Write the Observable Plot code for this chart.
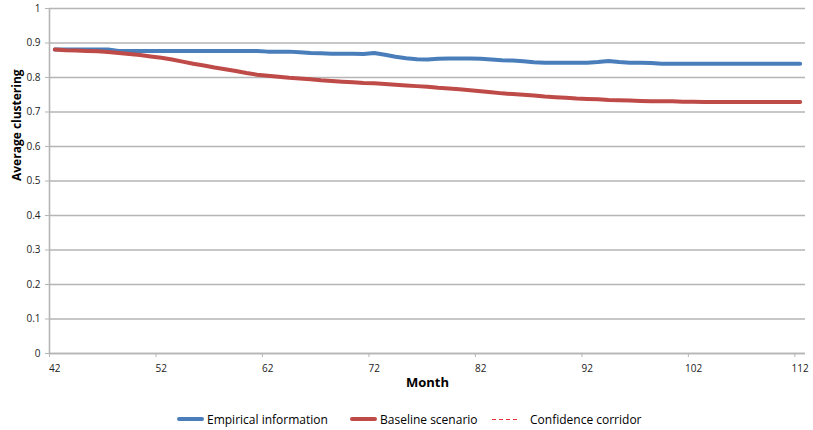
<!DOCTYPE html>
<html>
<head>
<meta charset="utf-8">
<script src="https://cdn.jsdelivr.net/npm/d3@7"></script>
<script src="https://cdn.jsdelivr.net/npm/@observablehq/plot@0.6"></script>
<style>
  html, body { margin: 0; padding: 0; background: #fff; }
  body { width: 813px; height: 430px; overflow: hidden; font-family: "Open Sans", sans-serif; }
  #legend { position: absolute; top: 410px; left: 0; width: 813px; height: 18px; font-size: 12px; color: #000; }
  .item { position: absolute; top: 0; display: flex; align-items: center; height: 18px; white-space: nowrap; }
  .sw { width: 27px; height: 0; margin-right: 3px; }
</style>
</head>
<body>
<div id="chart"></div>
<div id="legend">
  <div class="item" style="left:177px"><div class="sw" style="border-top:4px solid #4a7ebb;border-radius:2px"></div>Empirical information</div>
  <div class="item" style="left:350px"><div class="sw" style="border-top:4px solid #be4b48;border-radius:2px"></div>Baseline scenario</div>
  <div class="item" style="left:492px"><div class="sw" style="width:26px;height:1px;background:repeating-linear-gradient(90deg,#e8303c 0 4px,transparent 4px 7px);margin-right:12px"></div>Confidence corridor</div>
</div>
<script>
const months = d3.range(42, 113);
const empirical = [
  0.881, 0.881, 0.881, 0.881, 0.881, 0.881, 0.877, 0.877, 0.877, 0.877,
  0.877, 0.877, 0.877, 0.877, 0.877, 0.877, 0.877, 0.877, 0.877, 0.877,
  0.875, 0.875, 0.875, 0.873, 0.871, 0.870, 0.869, 0.869, 0.869, 0.868,
  0.871, 0.866, 0.860, 0.856, 0.853, 0.852, 0.854, 0.855, 0.855, 0.855,
  0.854, 0.852, 0.850, 0.849, 0.847, 0.844, 0.843, 0.843, 0.843, 0.843,
  0.843, 0.845, 0.848, 0.845, 0.843, 0.843, 0.842, 0.840, 0.840, 0.840,
  0.840, 0.840, 0.840, 0.840, 0.840, 0.840, 0.840, 0.840, 0.840, 0.840,
  0.840
];
const baseline = [
  0.881, 0.879, 0.878, 0.877, 0.876, 0.874, 0.871, 0.868, 0.865, 0.861,
  0.857, 0.852, 0.846, 0.840, 0.835, 0.829, 0.824, 0.819, 0.813, 0.808,
  0.805, 0.802, 0.799, 0.797, 0.795, 0.792, 0.790, 0.788, 0.786, 0.784,
  0.783, 0.781, 0.779, 0.777, 0.775, 0.773, 0.770, 0.768, 0.766, 0.763,
  0.760, 0.757, 0.754, 0.752, 0.750, 0.748, 0.745, 0.743, 0.741, 0.739,
  0.738, 0.737, 0.735, 0.734, 0.733, 0.732, 0.731, 0.731, 0.731, 0.730,
  0.730, 0.729, 0.729, 0.729, 0.729, 0.729, 0.729, 0.729, 0.729, 0.729,
  0.729
];
const xTickLabels = [42, 52, 62, 72, 82, 92, 102, 112];
const yTicks = d3.range(0, 11).map(i => i / 10);

const empData = months.map((m, i) => ({month: m, value: empirical[i]}));
const baseData = months.map((m, i) => ({month: m, value: baseline[i]}));

const gridColor = "#b5b5b5";
const chart = Plot.plot({
  width: 813,
  height: 405,
  marginLeft: 49,
  marginRight: 8,
  marginTop: 8,
  marginBottom: 52,
  style: {fontFamily: "Open Sans, sans-serif", fontSize: "10px", color: "#222", background: "#fff"},
  x: {domain: [41.5, 112.5]},
  y: {domain: [0, 1]},
  marks: [
    Plot.gridY(yTicks, {stroke: gridColor, strokeOpacity: 1, strokeWidth: 1.4}),
    Plot.axisY(yTicks, {tickSize: 4, tickPadding: 5, stroke: gridColor, label: null, tickFormat: d => String(d), fontSize: 10}),
    Plot.axisX(xTickLabels.map(d => d - 0.5), {tickSize: 4, stroke: gridColor, tickFormat: () => "", label: null}),
    Plot.axisX(xTickLabels, {tickSize: 0, tickPadding: 11, tickFormat: d => String(d), label: null, fontSize: 10}),
    Plot.ruleX([41.5], {stroke: gridColor, strokeWidth: 1.6}),
    Plot.ruleY([0], {stroke: gridColor, strokeWidth: 1.6}),
    Plot.line(empData, {x: "month", y: "value", stroke: "#4a7ebb", strokeWidth: 4}),
    Plot.line(baseData, {x: "month", y: "value", stroke: "#be4b48", strokeWidth: 4}),
    Plot.text(["Average clustering"], {frameAnchor: "left", dx: -32, rotate: -90, fontWeight: "bold", fontSize: 12, fill: "#000"}),
    Plot.text(["Month"], {frameAnchor: "bottom", dy: 33, fontWeight: "bold", fontSize: 13, fill: "#000"})
  ]
});
document.getElementById("chart").appendChild(chart);
</script>
</body>
</html>
